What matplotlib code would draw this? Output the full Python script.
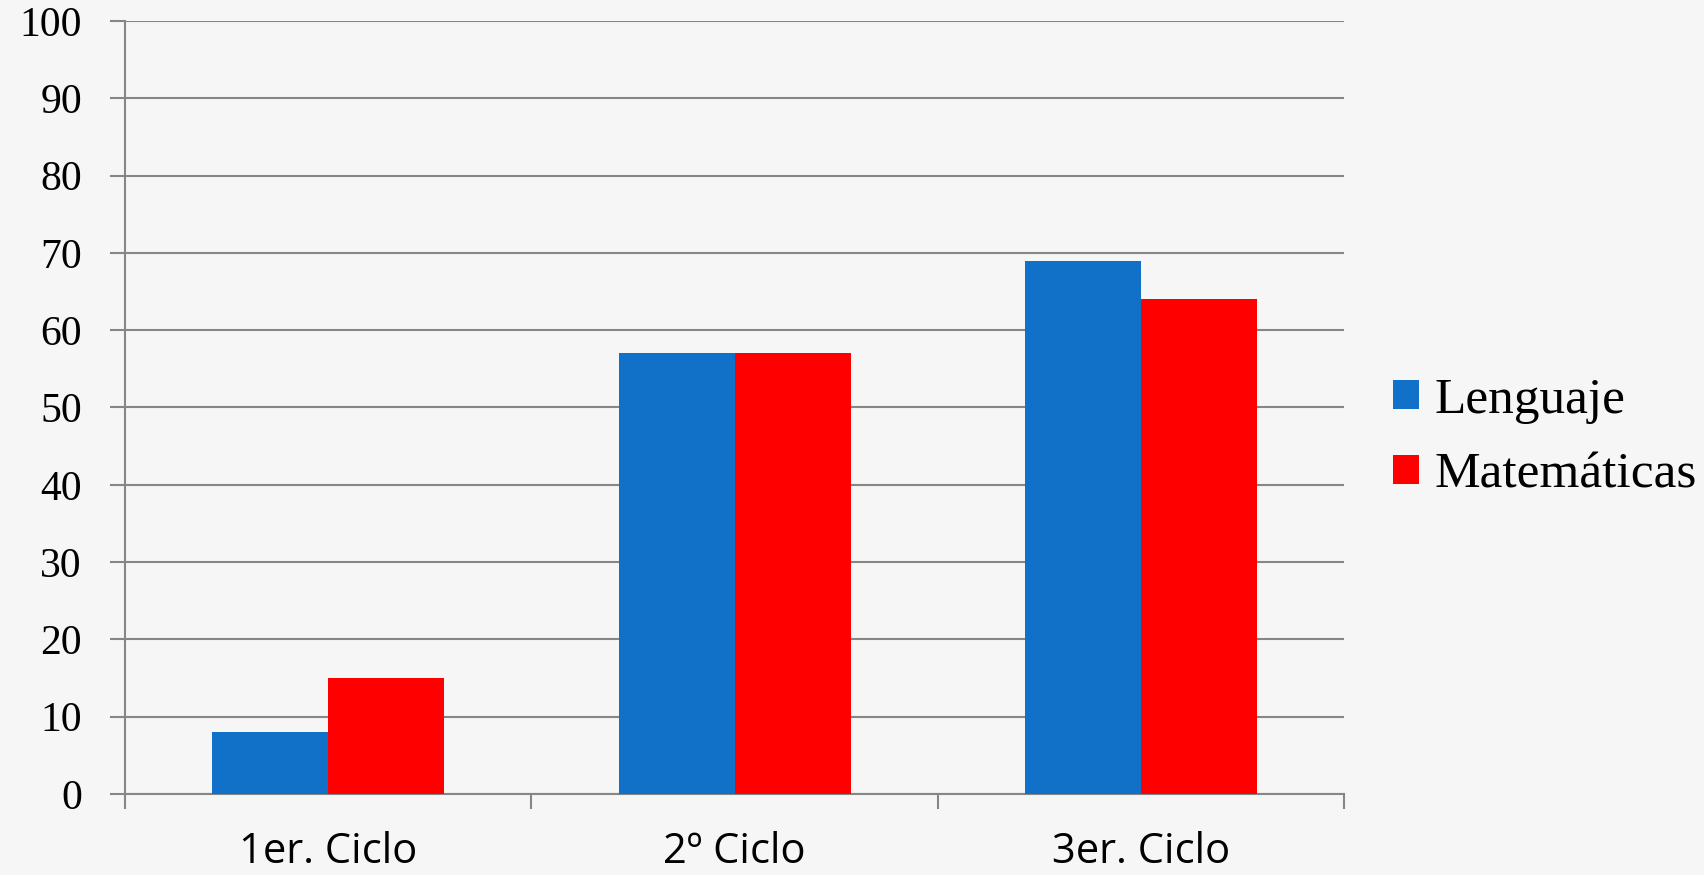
import matplotlib
matplotlib.use('Agg')
import matplotlib.pyplot as plt
import numpy as np

categorias = ['1er. Ciclo', '2º Ciclo', '3er. Ciclo']
lenguaje = [8, 57, 69]
matematicas = [15, 57, 64]
series = ['Lenguaje', 'Matemáticas']
yticks = list(range(0, 101, 10))

azul = '#1170C8'
rojo = '#FF0000'
gris = '#868686'

fig = plt.figure(figsize=(17.04, 8.75), dpi=100)
fig.patch.set_facecolor('#f6f6f6')
ax = fig.add_axes([0.0734, 0.0926, 0.7153, 0.8834])
ax.set_facecolor('none')

x = np.arange(len(categorias))
w = 0.2855
ax.bar(x - w/2, lenguaje, w, color=azul, label=series[0], zorder=3)
ax.bar(x + w/2, matematicas, w, color=rojo, label=series[1], zorder=3)

ax.set_xlim(-0.5, len(categorias) - 0.5)
ax.set_ylim(0, 100)
ax.set_yticks(yticks)
ax.set_yticklabels([str(v) for v in yticks], family='Liberation Serif', fontsize=30)
ax.yaxis.grid(True, color=gris, linewidth=1.5, zorder=0)

# ticks mayores en los bordes de categoria, etiquetas en los centros
ax.set_xticks(np.arange(len(categorias) + 1) - 0.5)
ax.set_xticklabels([])
ax.set_xticks(x, minor=True)
ax.set_xticklabels(categorias, minor=True, family='Open Sans', fontsize=30)
ax.tick_params(axis='x', which='major', direction='out', length=11, width=1.5, color=gris)
ax.tick_params(axis='x', which='minor', length=0, pad=27)
ax.tick_params(axis='y', direction='out', length=11, width=1.5, color=gris, pad=20)

for s in ['top', 'right']:
    ax.spines[s].set_visible(False)
for s in ['left', 'bottom']:
    ax.spines[s].set_color(gris)
    ax.spines[s].set_linewidth(1.5)

fig.legend(loc='center left', bbox_to_anchor=(0.8175, 0.4994), frameon=False,
           prop={'family': 'Liberation Serif', 'size': 37},
           handlelength=0.5, handleheight=0.5, handletextpad=0.3,
           labelspacing=0.55, borderpad=0, borderaxespad=0)

fig.savefig('out.png', dpi=100, facecolor=fig.get_facecolor())
